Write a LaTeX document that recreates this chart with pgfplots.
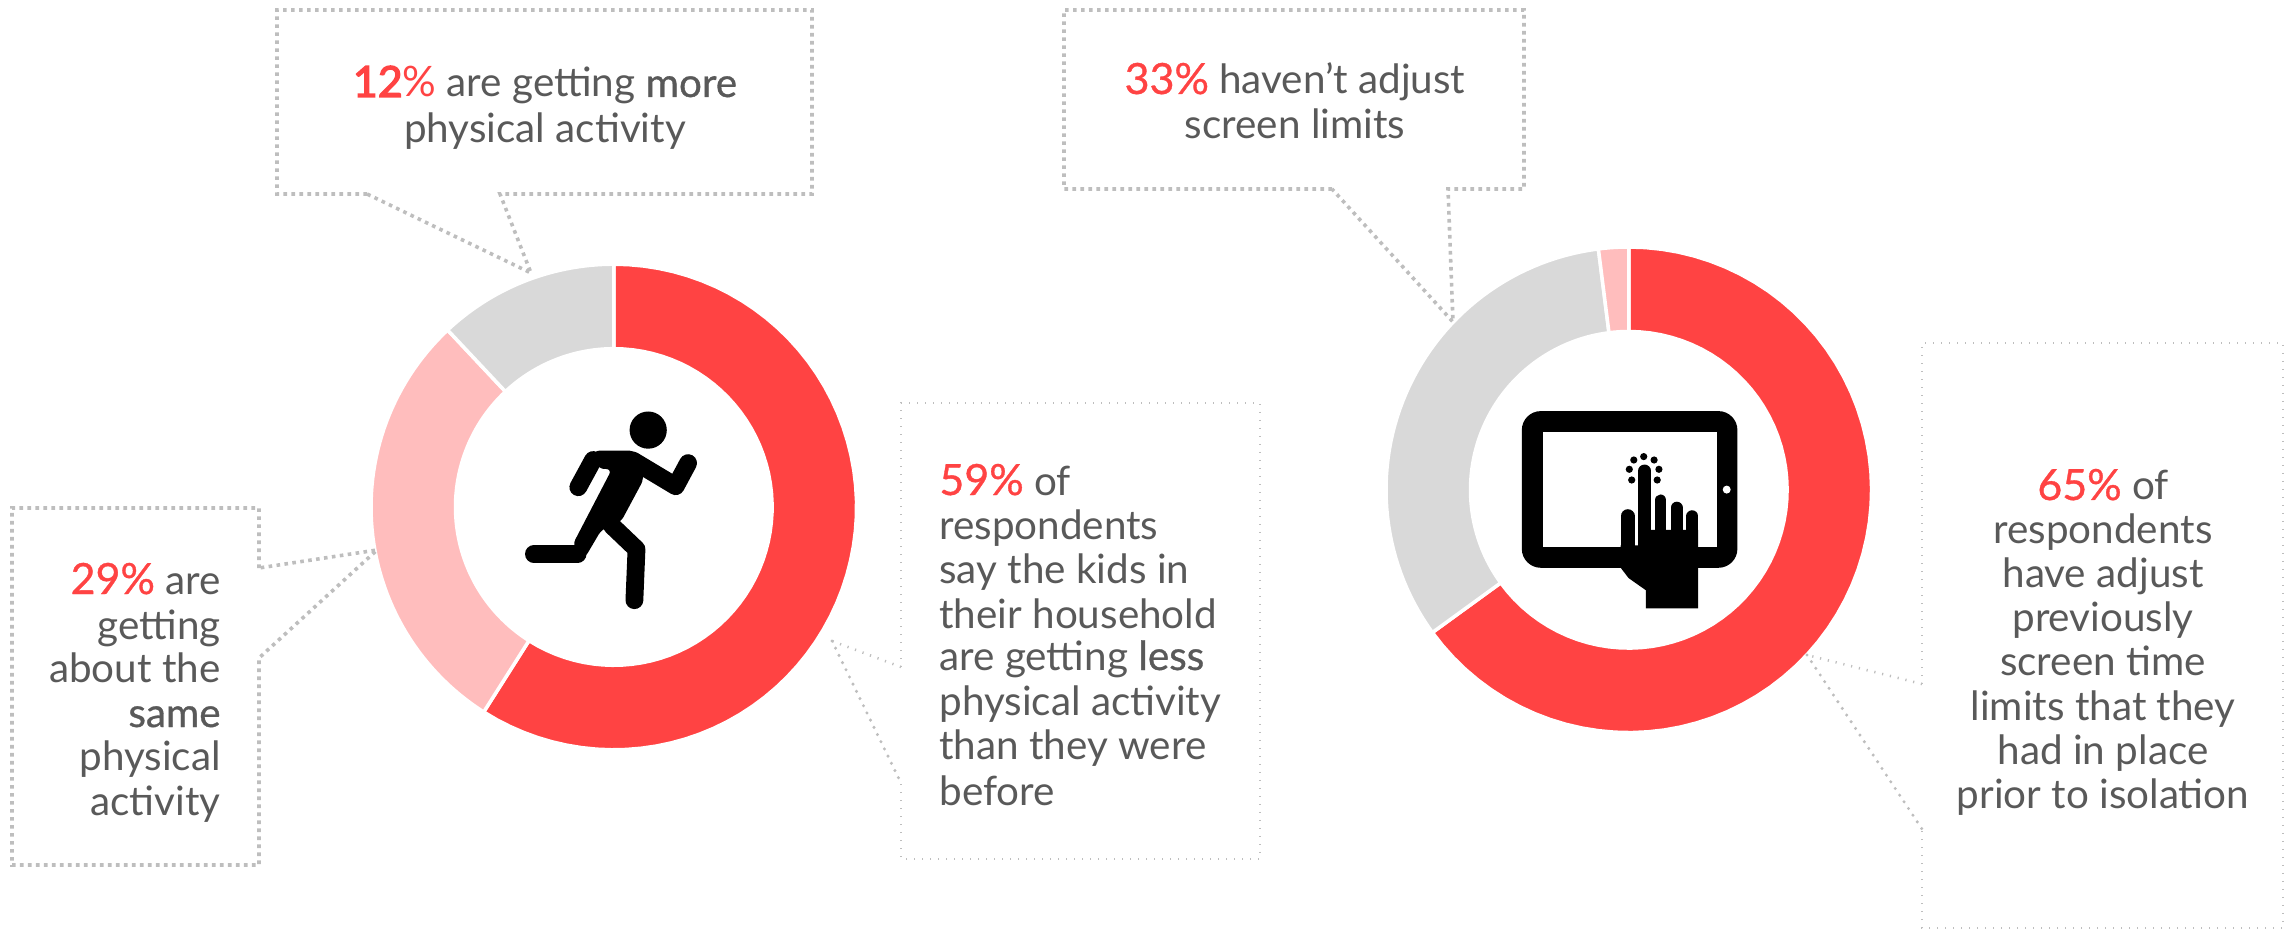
\documentclass[border=0pt]{standalone}
\usepackage{fontspec}
\usepackage{pgfplots}
\usepackage{pgfplotstable}
\pgfplotsset{compat=1.18}
\setmainfont{Lato}
\newfontfamily\medfont[FakeBold=0.8]{Lato}
\newfontfamily\heavyfont[FakeBold=3]{Lato}
\definecolor{ringred}{HTML}{FF4343}
\definecolor{ringpink}{HTML}{FFBDBD}
\definecolor{ringgray}{HTML}{D9D9D9}
\definecolor{bodytext}{HTML}{595959}
\definecolor{dotgray}{HTML}{BEBEBE}

% Shares of each ring, clockwise from twelve o'clock
\pgfplotstableread{
share colour
59    ringred
29    ringpink
12    ringgray
}\activitytable
\pgfplotstableread{
share colour
65    ringred
33    ringgray
2     ringpink
}\screentable

% One filled polygon per slice, built from the table's shares
\newcommand{\ringslices}[3]{%
  \def\runtotal{0}%
  \pgfplotsforeachungrouped \row in {0,1,2}{%
    \pgfplotstablegetelem{\row}{share}\of#1\let\sliceshare\pgfplotsretval
    \pgfplotstablegetelem{\row}{colour}\of#1\let\slicecol\pgfplotsretval
    \pgfmathsetmacro\sliceend{\runtotal+\sliceshare}%
    \gdef\slicepath{}%
    \foreach \k in {0,...,60}{%
      \pgfmathsetmacro\ang{3.6*(\runtotal+(\sliceend-\runtotal)*\k/60)}%
      \pgfmathsetmacro\px{#2+242.8*sin(\ang)}%
      \pgfmathsetmacro\py{#3-242.8*cos(\ang)}%
      \xdef\slicepath{\slicepath (\px,\py)}%
    }%
    \foreach \k in {60,...,0}{%
      \pgfmathsetmacro\ang{3.6*(\runtotal+(\sliceend-\runtotal)*\k/60)}%
      \pgfmathsetmacro\px{#2+158.3*sin(\ang)}%
      \pgfmathsetmacro\py{#3-158.3*cos(\ang)}%
      \xdef\slicepath{\slicepath (\px,\py)}%
    }%
    \edef\doslice{\noexpand\addplot[forget plot,no markers,fill=\slicecol,draw=white,line width=1.75pt] coordinates {\slicepath} --cycle;}%
    \doslice
    \let\runtotal\sliceend
  }%
}

% Text is placed line by line at its baseline
\newcommand{\tl}[4]{\node[anchor=#3,inner sep=0pt,yshift=-1pt,text=bodytext,font=\fontsize{20.2}{24}\selectfont] at (axis cs:#1,#2) {#4};}
\newcommand{\pct}[1]{{\color{ringred}\medfont\fontsize{21.5}{24}\selectfont #1}}
\newcommand{\pctb}[2]{{\color{ringred}\heavyfont\fontsize{21.5}{24}\selectfont #1}{\color{ringred}\fontsize{21}{24}\selectfont #2}}
\newcommand{\heavy}[1]{{\medfont #1}}

\tikzset{
  squaredots/.style={draw=dotgray,line width=1.8pt,dash pattern=on 1.8pt off 2.2pt},
  tickdots/.style={draw=dotgray,line width=1.3pt,dash pattern=on 0.6pt off 3.4pt},
  rounddots/.style={draw=dotgray,line width=1.7pt,line cap=round,dash pattern=on 0pt off 4pt},
  limb/.style={line width=8.9pt,line cap=round,line join=round,draw=black},
}

\begin{document}
\begin{tikzpicture}
\useasboundingbox (0,0) rectangle (1143.5pt,465pt);
\begin{axis}[
  at={(0,0)},anchor=south west,
  scale only axis,width=1143.5pt,height=465pt,
  xmin=0,xmax=2287,ymin=0,ymax=930,y dir=reverse,
  hide axis,clip=false]

\ringslices{\activitytable}{613.8}{507}
\ringslices{\screentable}{1628.8}{489.8}

% Callout outlines and their pointers
\draw[squaredots] (axis cs:367,194) -- (axis cs:277,194) -- (axis cs:277,10) -- (axis cs:812,10) -- (axis cs:812,194) -- (axis cs:500,194) -- (axis cs:531,273) -- cycle;
\draw[squaredots] (axis cs:259,568) -- (axis cs:259,508) -- (axis cs:12,508) -- (axis cs:12,865) -- (axis cs:259,865) -- (axis cs:259,658) -- (axis cs:377,550) -- cycle;
\draw[squaredots] (axis cs:1332,189) -- (axis cs:1064,189) -- (axis cs:1064,10) -- (axis cs:1524,10) -- (axis cs:1524,189) -- (axis cs:1448,189) -- (axis cs:1453,322) -- cycle;

\draw[tickdots] (axis cs:901,667) -- (axis cs:901,403) -- (axis cs:1260,403) -- (axis cs:1260,859) -- (axis cs:901,859) -- (axis cs:901,783);
\draw[tickdots] (axis cs:901,667) -- (axis cs:832,641);
\draw[rounddots] (axis cs:832,641) -- (axis cs:901,783);
\draw[tickdots] (axis cs:1922,684) -- (axis cs:1922,343) -- (axis cs:2283,343) -- (axis cs:2283,928) -- (axis cs:1922,928) -- (axis cs:1922,829);
\draw[tickdots] (axis cs:1922,684) -- (axis cs:1807,655);
\draw[rounddots] (axis cs:1807,655) -- (axis cs:1922,829);

% Callout text
\tl{545}{95}{base}{\pctb{12}{\%} are getting \heavy{more}}
\tl{545}{141}{base}{physical activity}

\tl{221}{592}{base east}{\pct{29\%} are}
\tl{221}{637}{base east}{getting}
\tl{221}{680}{base east}{about the}
\tl{221}{725}{base east}{\heavy{same}}
\tl{221}{768}{base east}{physical}
\tl{221}{813}{base east}{activity}

\tl{939}{493}{base west}{\pct{59\%} of}
\tl{939}{537}{base west}{respondents}
\tl{939}{581}{base west}{say the kids in}
\tl{939}{626}{base west}{their household}
\tl{939}{668}{base west}{are getting \heavy{less}}
\tl{939}{713}{base west}{physical activity}
\tl{939}{757}{base west}{than they were}
\tl{939}{803}{base west}{before}

\tl{1295}{92}{base}{\pct{33\%} haven’t adjust}
\tl{1295}{137}{base}{screen limits}

\tl{2103}{498}{base}{\pct{65\%} of}
\tl{2103}{542}{base}{respondents}
\tl{2103}{586}{base}{have adjust}
\tl{2103}{630}{base}{previously}
\tl{2103}{673}{base}{screen time}
\tl{2103}{718}{base}{limits that they}
\tl{2103}{762}{base}{had in place}
\tl{2103}{806}{base}{prior to isolation}

% Running figure
\fill[black] (axis cs:648.2,430.1) circle[radius=9.3pt];
\draw[limb] (axis cs:578.3,487.2) -- (axis cs:593.1,460.0);
\draw[limb] (axis cs:632.7,460.4) -- (axis cs:675.7,486.2) -- (axis cs:688.1,463.1);
\fill[black,rounded corners=3pt] (axis cs:593.1,450.7) -- (axis cs:635.5,450.7) -- (axis cs:644.1,478.6) -- (axis cs:620.6,522.4) -- (axis cs:601.7,529.3) -- (axis cs:584.5,558.5) -- (axis cs:572.4,545.1) -- (axis cs:612.0,469.0) -- (axis cs:598.3,469.0) -- cycle;
\draw[limb] (axis cs:533.9,554.1) -- (axis cs:577.6,554.1);
\draw[limb,line cap=round] (axis cs:612,525.8) -- (axis cs:636.5,549.2) -- (axis cs:634.4,600.2);

% Tablet with a tapping hand
\fill[black,rounded corners=9.5pt] (axis cs:1521.8,411.1) rectangle (axis cs:1737.4,567.8);
\fill[white] (axis cs:1542.8,431.8) rectangle (axis cs:1716.8,547.1);
\fill[white] (axis cs:1726.7,489.6) circle[radius=2pt];
\fill[black] (axis cs:1620.7,545.4) -- (axis cs:1638.2,545.4) -- (axis cs:1638.2,529.9) -- (axis cs:1698.1,529.9) -- (axis cs:1698.1,608.4) -- (axis cs:1645.8,608.4) -- (axis cs:1645.8,590.2) -- (axis cs:1628.6,578.1) -- (axis cs:1620.7,567.8) -- cycle;
\draw[black,line width=6.9pt,line cap=round] (axis cs:1627.6,516.1) -- (axis cs:1627.6,545.4);
\draw[black,line width=6.35pt,line cap=round] (axis cs:1644.6,470.9) -- (axis cs:1644.6,545.4);
\draw[black,line width=5.85pt,line cap=round] (axis cs:1660.6,500.3) -- (axis cs:1660.6,531.6);
\draw[black,line width=6pt,line cap=round] (axis cs:1676.6,507.7) -- (axis cs:1676.6,531.6);
\draw[black,line width=5.85pt,line cap=round] (axis cs:1692.3,516.1) -- (axis cs:1692.3,531.6);
\foreach \cx/\cy in {1633.8/460.0,1643.7/456.6,1654.1/460.0,1658.9/469.3,1657.2/480.0,1629.3/469.3,1631.7/480.0}{
  \edef\dodot{\noexpand\fill[black] (axis cs:\cx,\cy) circle[radius=1.8pt];}\dodot
}
\end{axis}
\end{tikzpicture}
\end{document}
